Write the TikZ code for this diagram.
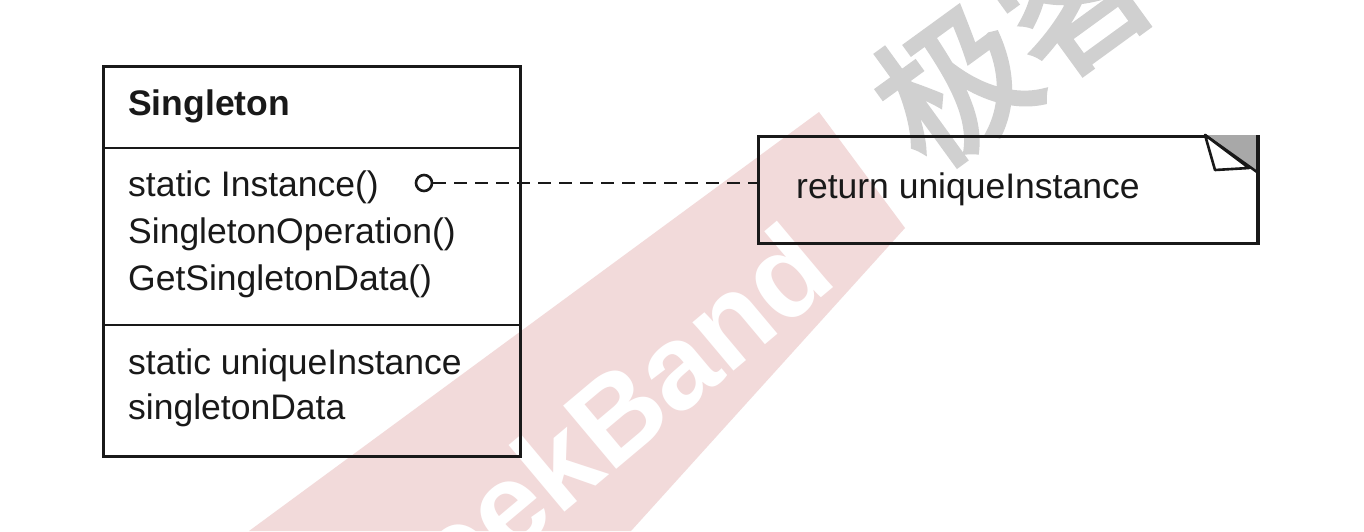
\documentclass[tikz,border=0pt]{standalone}
\usepackage{fontspec}
\setmainfont{Liberation Sans}
\newfontfamily\cjk[FakeBold=3]{Noto Sans CJK SC}
\definecolor{wmpink}{RGB}{242,218,218}
\definecolor{wmgray}{RGB}{208,208,208}
\definecolor{foldgray}{RGB}{168,168,168}
\definecolor{ink}{RGB}{25,25,25}
\begin{document}
\begin{tikzpicture}[x=1pt,y=-1pt,
  box/.style={draw=ink, line width=2.6pt},
  lbl/.style={anchor=base west, inner sep=0pt, text=ink, font=\fontsize{35.5}{40}\selectfont},
  conn/.style={draw=ink, line width=2.8pt, dash pattern=on 13pt off 8pt},
  endcirc/.style={circle, draw=ink, fill=white, line width=2.6pt, minimum size=16pt, inner sep=0pt}]
\useasboundingbox (0,0) rectangle (1364,531);
\fill[white] (0,0) rectangle (1364,531);
\begin{scope}
\clip (0,0) rectangle (1364,531);
% watermark
\fill[wmpink] (819,112) -- (905,228) -- (631,531) -- (249,531) -- cycle;
\node (wmtext) [text=white, rotate=40, inner sep=0pt, font=\fontsize{120}{124}\selectfont\bfseries] at (585,440) {GeekBand};
\node (wmcjk) [text=wmgray, rotate=36, inner sep=0pt, font=\cjk\fontsize{150}{150}\selectfont] at (1075,-5) {极客邦};
\end{scope}
% class box
\node (cls) [box, anchor=north west, minimum width=417pt, minimum height=390pt, inner sep=0pt] at (102,65) {};
\draw[box] (102,148) -- (519,148);
\draw[box] (102,325) -- (519,325);
\node (name) [lbl, font=\fontsize{35.5}{40}\selectfont\bfseries] at (128,115) {Singleton};
\node (op1) [lbl] at (128,196) {static Instance()};
\node (op2) [lbl] at (128,243) {SingletonOperation()};
\node (op3) [lbl] at (128,290) {GetSingletonData()};
\node (at1) [lbl] at (128,374) {static uniqueInstance};
\node (at2) [lbl] at (128,419) {singletonData};
% note
\node (note) [box, anchor=north west, minimum width=500pt, minimum height=107pt, inner sep=0pt] at (757,135) {};
\fill[foldgray] (1205,135) -- (1257,135) -- (1257,172) -- cycle;
\draw[ink, line width=2.6pt, line join=round] (1205,135) -- (1257,172);
\filldraw[fill=white, draw=ink, line width=2.6pt, line join=round] (1205,135) -- (1215,170) -- (1249,168) -- cycle;
\draw[box] (1257,135) -- (1257,242);
\node (ntext) [lbl] at (796,198) {return uniqueInstance};
% connector
\node (circ) [endcirc] at (424,183) {};
\draw[conn] (circ.east) -- (circ.east -| note.west);
\end{tikzpicture}
\end{document}
